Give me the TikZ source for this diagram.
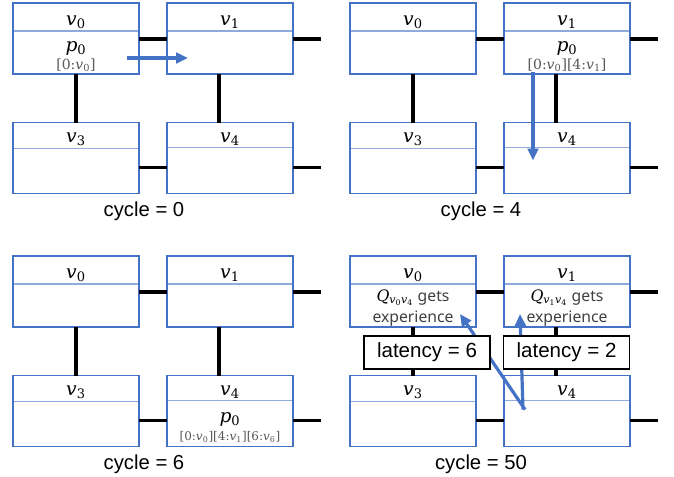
\documentclass[tikz,border=0pt]{standalone}
\usepackage{fontspec}
\setsansfont{Liberation Sans}
\newfontfamily\gothic{Noto Sans}
\newfontfamily\mfont{DejaVu Serif}
\newcommand{\mv}[2]{{\mfont\itshape #1}\textsubscript{\mfont #2}}
\usetikzlibrary{calc,arrows.meta}
\definecolor{boxblue}{HTML}{4472C4}
\definecolor{divblue}{HTML}{8FAADC}
\definecolor{txtgray}{HTML}{595959}
\begin{document}
\begin{tikzpicture}[x=0.75pt,y=-0.75pt,
  cell/.style={draw=boxblue,line width=0.9pt,fill=white,minimum width=94.5pt,minimum height=53.25pt,inner sep=0pt,outer sep=0pt},
  link/.style={line width=2.3pt,black},
  flow/.style={draw=boxblue,line width=2.4pt,-{Triangle[length=9pt,width=8pt]}},
  vlab/.style={font=\fontsize{14}{14}\selectfont,anchor=base,inner sep=0pt},
  hist/.style={font=\mfont\fontsize{10.5}{10.5}\selectfont,text=txtgray,anchor=base,inner sep=0pt},
  cyc/.style={font=\sffamily\fontsize{15.2}{15.2}\selectfont,anchor=base,inner sep=0pt},
  lat/.style={draw=black,line width=0.8pt,fill=white,font=\sffamily\fontsize{15.4}{15.4}\selectfont,minimum width=94.5pt,minimum height=24.75pt,inner sep=0pt},
  qlab/.style={font=\gothic\fontsize{11.8}{11.8}\selectfont,text=black!75,anchor=base,inner sep=0pt}]
\useasboundingbox (0,0) rectangle (674,476);
\fill[white] (0,0) rectangle (674,476);
\foreach \p/\ox/\oy/\c in {A/0/0/0,B/337/0/4,C/0/253/6,D/337/253/50}{
  \node[cell] (\p0) at (\ox+76,\oy+38.5) {};
  \node[cell] (\p1) at (\ox+230,\oy+38.5) {};
  \node[cell] (\p3) at (\ox+76,\oy+158) {};
  \node[cell] (\p4) at (\ox+230,\oy+158) {};
  \coordinate (\p r1) at ($(\p1.north east)+(28,36)$);
  \coordinate (\p r4) at ($(\p4.north east)+(28,45)$);
  \draw[link] ($(\p0.north east)+(0,36)$) -- ($(\p1.north west)+(0,36)$);
  \draw[link] ($(\p1.north east)+(0,36)$) -- (\p r1);
  \draw[link] ($(\p3.north east)+(0,45)$) -- ($(\p4.north west)+(0,45)$);
  \draw[link] ($(\p4.north east)+(0,45)$) -- (\p r4);
  \draw[link] (\p0.south) -- (\p3.north);
  \draw[link] ($(\p1.south west)+(52,0)$) -- ($(\p4.north west)+(52,0)$);
  \draw[divblue,line width=0.9pt] ($(\p0.north west)+(0.6,28)$) -- ($(\p0.north east)+(-0.6,28)$);
  \draw[divblue,line width=0.9pt] ($(\p1.north west)+(0.6,28)$) -- ($(\p1.north east)+(-0.6,28)$);
  \draw[divblue,line width=0.9pt] ($(\p3.north west)+(0.6,26)$) -- ($(\p3.north east)+(-0.6,26)$);
  \draw[divblue,line width=0.9pt] ($(\p4.north west)+(0.6,25)$) -- ($(\p4.north east)+(-0.6,25)$);
  \node[vlab] (\p0l) at ($(\p0.north)+(0,22)$) {\mv{v}{0}};
  \node[vlab] (\p1l) at ($(\p1.north)+(0,22)$) {\mv{v}{1}};
  \node[vlab] (\p3l) at ($(\p3.north)+(0,20)$) {\mv{v}{3}};
  \node[vlab] (\p4l) at ($(\p4.north)+(0,20)$) {\mv{v}{4}};
  \node[cyc] (\p c) at (\ox+144,\oy+216) {cycle = \c};
}
% panel A
\node[vlab] (ap) at ($(A0.north)+(0,48)$) {\mv{p}{0}};
\node[hist] (ah) at ($(A0.north)+(0,66)$) {[0:\mv{v}{0}]};
\coordinate (as) at ($(A0.north west)+(114,55)$);
\coordinate (ae) at ($(A1.north west)+(21,55)$);
\draw[flow] (as) -- (ae);
% panel B
\node[vlab] (bp) at ($(B1.north)+(0,48)$) {\mv{p}{0}};
\node[hist] (bh) at ($(B1.north)+(0,66)$) {[0:\mv{v}{0}][4:\mv{v}{1}]};
\coordinate (bs) at ($(B1.south west)+(29,-2)$);
\coordinate (be) at ($(B4.north west)+(29,38)$);
\draw[flow] (bs) -- (be);
% panel C
\node[vlab] (cp) at ($(C4.north)+(0,47)$) {\mv{p}{0}};
\node[hist,font=\mfont\fontsize{9}{9}\selectfont] (ch) at ($(C4.north)+(0,65)$) {[0:\mv{v}{0}][4:\mv{v}{1}][6:\mv{v}{6}]};
% panel D
\node[qlab] (dq0) at ($(D0.north)+(0,45)$) {{\mfont\itshape\color{black}Q}\textsubscript{\color{black}\mv{v}{0}\mv{v}{4}} gets};
\node[qlab] (de0) at ($(D0.north)+(0,66)$) {experience};
\node[qlab] (dq1) at ($(D1.north)+(0,45)$) {{\mfont\itshape\color{black}Q}\textsubscript{\color{black}\mv{v}{1}\mv{v}{4}} gets};
\node[qlab] (de1) at ($(D1.north)+(0,66)$) {experience};
\coordinate (ds) at ($(D4.north west)+(21,34)$);
\coordinate (dt0) at ($(D0.north west)+(110,58)$);
\coordinate (dt1) at ($(D1.north west)+(16,58)$);
\coordinate (ds1) at ($(D4.north west)+(19,34)$);
\draw[flow] (ds) -- (dt0);
\draw[flow] (ds1) -- (dt1);
\node[lat] (lat6) at (427,352.5) {latency = 6};
\node[lat] (lat2) at (566.5,352.5) {latency = 2};
\end{tikzpicture}
\end{document}
